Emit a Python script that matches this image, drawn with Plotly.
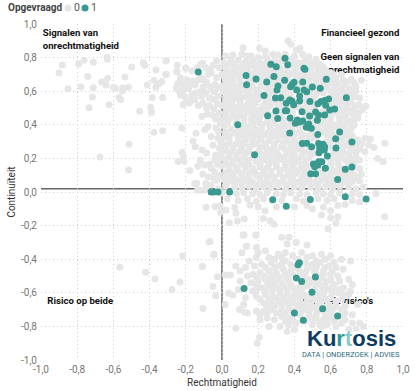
import plotly.graph_objects as go

tick_vals = [-1, -0.8, -0.6, -0.4, -0.2, 0, 0.2, 0.4, 0.6, 0.8, 1]
tick_text = ["-1,0", "-0,8", "-0,6", "-0,4", "-0,2", "0,0", "0,2", "0,4", "0,6", "0,8", "1,0"]

teal_points = [
(-.131,.714),(.27,.76),(.30,.746),(.348,.796),(.363,.758),(.453,.736),(.458,.73),(.133,.694),(.136,.639),(.188,.673),
(.247,.655),(.287,.688),(.346,.665),(.309,.631),(.304,.607),(.398,.653),(.379,.627),(.388,.64),(.446,.655),(.413,.607),
(.453,.607),(.468,.597),(.499,.625),(.543,.617),(.576,.671),(.232,.575),(.295,.56),(.324,.561),(.429,.571),(.429,.542),
(.486,.538),(.355,.528),(.374,.548),(.387,.542),(.396,.52),(.53,.526),(.547,.538),(.567,.544),(.589,.554),(.687,.561),
(.573,.516),(.298,.482),(.35,.484),(.357,.484),(.442,.478),(.517,.476),(.595,.488),(.622,.494),(.534,.458),(.567,.458),
(.484,.452),(.252,.454),(.308,.437),(.376,.44),(.416,.429),(.405,.409),(.427,.417),(.446,.423),(.527,.427),(.087,.401),
(.479,.405),(.466,.385),(.494,.379),(.482,.385),(.374,.351),(.529,.343),(.65,.357),(.628,.317),(.718,.298),(.444,.288),
(.468,.29),(.495,.27),(.534,.288),(.558,.284),(.567,.27),(.54,.26),(.63,.262),(.565,.25),(.536,.234),(.18,.222),
(.582,.214),(.505,.167),(.512,.151),(.534,.18),(.552,.18),(.53,.16),(.571,.141),(.49,.109),(.517,.109),(.681,.135),
(.718,.149),(.639,.075),(-.06,0),(-.046,0),(-.022,0),(.042,0),(.28,-.046),(.488,-.044),(.681,-.028),(.796,-.042),
(.355,-.085),(.427,-.421),(.42,-.433),(.516,-.506),(.411,-.512),(.44,-.532),(.122,-.575),(.497,-.597),(.556,-.695),
(.4,-.72),(.639,-.738),(.449,-.764),
]

gray_points = [
# far left
(-.90,.708),(-.882,.756),(-.851,.615),(-.792,.762),(-.762,.784),(-.779,.625),(-.742,.688),(-.711,.772),(-.711,.621),
(-.716,.565),(-.735,.502),(-.665,.655),(-.632,.677),(-.634,.802),(-.634,.79),(-.641,.637),(-.624,.52),(-.6,.623),
(-.59,.618),(-.569,.563),(-.56,.55),(-.551,.603),(-.548,.62),(-.517,.623),(-.536,.685),(-.499,.744),(-.435,.77),
(-.427,.754),(-.455,.48),(-.413,.639),(-.394,.504),(-.389,.474),(-.385,.563),(-.376,.665),(-.365,.726),(-.365,.623),
(-.35,.645),(-.333,.657),(-.328,.563),(-.308,.7),(-.308,.782),(-.376,.355),(-.328,.365),(-.514,.284),(-.516,.131),(-.674,.208),
# left band
(-.31,.78),(-.247,.756),(-.25,.716),(-.2,.736),(-.252,.619),(-.245,.645),(-.23,.68),(-.221,.379),(-.144,.349),(-.16,.302),
(-.22,.237),(-.213,.21),(-.243,.182),(-.21,.185),(-.178,.128),(-.133,.155),(-.105,.105),(-.14,.05),(-.107,.766),(-.118,.76),
(-.2,.737),(-.248,.716),(-.31,.7),(-.23,.67),(-.05,.755),(-.066,.725),(-.076,.70),(-.06,.71),(-.118,.68),(-.105,.67),
(-.193,.667),(-.177,.648),(-.195,.648),(-.25,.62),(-.215,.605),(-.24,.605),(-.185,.615),(-.149,.637),(-.105,.625),(-.125,.595),
(-.149,.587),(-.112,.568),(-.165,.577),(-.23,.577),(-.205,.567),(-.195,.54),(-.18,.53),(-.215,.52),(-.13,.515),(-.07,.56),
(-.045,.55),(-.045,.495),(-.07,.515),(-.11,.45),(-.034,.435),(-.02,.62),(-.03,.68),(-.015,.74),(-.04,.64),(-.02,.57),
(-.033,.38),(-.077,.39),(-.095,.37),(-.148,.27),(-.11,.25),(-.085,.23),(-.12,.19),(-.095,.16),(-.06,.14),(-.043,.12),
(-.035,.22),(-.015,.26),(-.022,.32),(-.05,.28),(-.07,.165),(-.025,.165),(-.09,.05),(-.06,.04),(-.03,.07),(-.02,.02),
(-.135,.01),(-.11,.01),(-.09,.02),(-.015,.1),(-.04,.19),(-.15,.05),
(-.165,.72),(-.135,.74),(-.09,.74),(-.03,.78),(-.16,.66),(-.135,.665),(-.085,.655),(-.065,.625),(-.09,.59),(-.045,.595),
(-.17,.545),(-.15,.55),(-.105,.53),(-.085,.50),(-.025,.525),(-.015,.47),(-.05,.455),(-.08,.465),(-.21,.64),(-.01,.41),
(-.02,.36),(-.06,.33),(-.005,.29),(-.01,.20),(-.045,.08),(-.075,.09),
# top fringe
(.365,.90),(.38,.88),(.43,.855),(.41,.845),(.116,.859),(.208,.855),(.24,.84),(.02,.81),(.06,.815),(.11,.82),(.135,.81),
(.28,.82),(.31,.815),(.35,.82),(.40,.81),(.48,.805),(.445,.82),(.16,.81),(.20,.80),(.24,.805),(.52,.79),
# upper blob
(.01,.77),(.05,.78),(.09,.785),(.13,.775),(.17,.78),(.21,.77),(.25,.79),(.29,.78),(.33,.78),(.38,.79),(.42,.77),(.46,.785),(.50,.77),(.54,.76),
(.02,.74),(.06,.745),(.10,.74),(.14,.735),(.18,.745),(.22,.74),(.26,.735),(.32,.74),(.36,.73),(.40,.745),(.44,.74),(.49,.735),(.53,.73),(.57,.725),(.60,.71),
(.0,.70),(.04,.705),(.08,.70),(.12,.71),(.16,.70),(.21,.705),(.25,.70),(.30,.705),(.34,.70),(.38,.705),(.42,.70),(.47,.70),(.51,.695),(.55,.70),(.59,.685),(.63,.68),(.66,.70),
(.02,.665),(.06,.67),(.10,.665),(.15,.665),(.20,.66),(.28,.665),(.31,.67),(.36,.665),(.43,.675),(.47,.665),(.52,.66),(.56,.655),(.60,.65),(.64,.645),(.715,.67),(.77,.665),(.69,.655),
(.0,.63),(.04,.635),(.08,.625),(.12,.61),(.17,.625),(.22,.63),(.26,.62),(.34,.63),(.42,.635),(.47,.63),(.52,.635),(.58,.625),(.62,.61),(.66,.615),(.71,.615),(.74,.63),
(.01,.595),(.05,.59),(.09,.585),(.14,.58),(.19,.59),(.26,.585),(.34,.59),(.38,.585),(.48,.59),(.52,.585),(.56,.59),(.62,.575),(.66,.58),(.72,.585),(.76,.56),
(.02,.555),(.06,.55),(.10,.545),(.15,.54),(.20,.55),(.24,.535),(.31,.525),(.46,.55),(.50,.555),(.62,.54),(.66,.535),(.71,.535),(.755,.52),(.795,.51),
(.0,.515),(.04,.51),(.08,.505),(.12,.50),(.17,.505),(.22,.50),(.27,.515),(.33,.50),(.42,.505),(.47,.50),(.51,.505),(.60,.51),(.65,.505),(.69,.50),(.73,.495),(.775,.49),
(.02,.47),(.06,.465),(.10,.46),(.14,.47),(.18,.465),(.22,.47),(.27,.455),(.33,.46),(.39,.47),(.47,.475),(.56,.48),(.60,.465),(.64,.46),(.68,.455),(.72,.465),(.75,.44),
(.0,.43),(.04,.435),(.12,.42),(.16,.43),(.20,.425),(.25,.42),(.29,.41),(.34,.415),(.38,.41),(.50,.42),(.56,.425),(.60,.42),(.65,.415),(.70,.42),(.73,.40),
(.01,.395),(.05,.375),(.10,.385),(.14,.39),(.18,.38),(.22,.385),(.27,.375),(.31,.38),(.35,.39),(.43,.385),(.53,.385),(.57,.39),(.61,.385),(.67,.38),(.71,.37),
(.02,.355),(.07,.35),(.11,.345),(.15,.35),(.19,.34),(.24,.345),(.29,.34),(.33,.345),(.41,.35),(.45,.34),(.49,.345),(.57,.35),(.61,.345),(.69,.34),
(.0,.315),(.04,.31),(.09,.305),(.13,.31),(.17,.30),(.21,.31),(.26,.305),(.31,.31),(.36,.305),(.40,.31),(.49,.315),(.58,.31),(.66,.31),(.70,.30),(.75,.31),(.79,.32),(.82,.315),
(.02,.275),(.06,.27),(.11,.265),(.15,.27),(.21,.265),(.24,.27),(.28,.26),(.33,.27),(.38,.265),(.42,.255),(.60,.27),(.67,.27),(.72,.265),(.77,.285),(.81,.28),(.90,.29),(.84,.265),
(.0,.235),(.04,.23),(.08,.225),(.13,.23),(.23,.225),(.27,.23),(.31,.22),(.36,.225),(.40,.22),(.45,.23),(.49,.225),(.61,.22),(.65,.23),(.70,.225),(.74,.235),(.79,.24),
(.02,.195),(.06,.19),(.10,.185),(.14,.19),(.19,.18),(.23,.19),(.28,.185),(.33,.195),(.37,.18),(.42,.19),(.46,.18),(.60,.19),(.64,.185),(.68,.19),(.76,.19),(.89,.18),(.86,.20),
(.0,.155),(.04,.15),(.08,.145),(.13,.15),(.17,.14),(.21,.15),(.25,.145),(.30,.15),(.35,.14),(.39,.15),(.44,.145),(.60,.145),(.65,.15),(.76,.14),
(.02,.115),(.06,.11),(.11,.105),(.15,.11),(.19,.10),(.23,.11),(.27,.105),(.32,.11),(.36,.10),(.41,.11),(.45,.10),(.56,.11),(.60,.105),(.64,.11),(.69,.105),(.73,.10),(.77,.105),
(.01,.075),(.05,.07),(.09,.065),(.13,.07),(.17,.06),(.21,.075),(.25,.06),(.29,.07),(.33,.06),(.38,.07),(.42,.06),(.47,.07),(.51,.06),(.55,.07),(.59,.06),(.68,.065),(.72,.06),(.76,.065),
(.02,.035),(.07,.03),(.11,.025),(.15,.035),(.19,.02),(.23,.03),(.27,.025),(.31,.035),(.35,.02),(.40,.03),(.44,.025),(.49,.03),(.53,.02),(.57,.03),(.61,.02),(.65,.035),(.70,.03),(.74,.02),(.78,.03),
(.0,-.005),(.08,-.01),(.12,-.005),(.17,-.01),(.21,-.015),(.25,-.005),(.30,-.01),(.34,-.015),(.38,-.005),(.43,-.01),(.47,-.015),(.52,-.005),(.56,-.01),(.60,-.015),(.65,-.005),(.72,-.01),(.76,-.015),(.85,-.01),
(.03,-.04),(.09,-.05),(.14,-.04),(.19,-.055),(.23,-.04),(.33,-.05),(.41,-.04),(.45,-.055),(.53,-.04),(.58,-.05),(.62,-.04),(.72,-.05),(.76,-.06),
# upper blob, between the rows
(.03,.76),(.07,.76),(.115,.755),(.155,.76),(.195,.755),(.24,.76),(.28,.75),(.31,.77),(.40,.77),(.44,.765),(.48,.76),(.52,.75),(.56,.745),
(.025,.72),(.065,.725),(.105,.715),(.145,.715),(.185,.72),(.23,.72),(.275,.715),(.32,.72),(.36,.71),(.405,.72),(.45,.71),(.49,.715),(.53,.71),(.575,.70),(.615,.70),
(.015,.685),(.055,.685),(.10,.685),(.14,.68),(.18,.68),(.225,.685),(.265,.68),(.325,.685),(.365,.69),(.41,.68),(.45,.685),(.49,.68),(.535,.68),(.575,.665),(.615,.665),(.67,.665),
(.02,.645),(.06,.65),(.105,.64),(.165,.645),(.215,.645),(.27,.64),(.325,.65),(.365,.64),(.42,.655),(.48,.65),(.52,.645),(.58,.64),(.625,.635),(.68,.635),(.73,.65),
(.025,.61),(.065,.605),(.10,.605),(.15,.60),(.20,.61),(.245,.605),(.28,.60),(.35,.61),(.50,.605),(.54,.60),(.60,.60),(.645,.595),(.69,.595),(.74,.60),
(.035,.57),(.075,.565),(.12,.565),(.17,.565),(.21,.57),(.25,.56),(.345,.565),(.47,.57),(.51,.57),(.60,.56),(.645,.555),(.69,.56),(.73,.565),
(.02,.535),(.055,.53),(.10,.525),(.14,.52),(.18,.525),(.23,.515),(.275,.535),(.33,.53),(.42,.53),(.47,.525),(.61,.525),(.645,.52),(.69,.515),(.735,.515),
(.025,.49),(.065,.485),(.10,.48),(.15,.485),(.20,.485),(.25,.485),(.31,.50),(.385,.495),(.44,.50),(.50,.49),(.63,.48),(.67,.48),(.71,.48),(.755,.47),
(.02,.45),(.08,.44),(.12,.445),(.17,.45),(.21,.445),(.28,.44),(.335,.435),(.465,.45),(.50,.45),(.60,.44),(.65,.435),(.685,.44),(.73,.435),
(.03,.41),(.08,.415),(.12,.40),(.17,.405),(.22,.405),(.26,.40),(.33,.395),(.385,.39),(.44,.40),(.53,.405),(.585,.405),(.63,.40),(.68,.40),(.72,.39),
(.04,.335),(.09,.365),(.13,.365),(.17,.36),(.21,.365),(.26,.36),(.30,.36),(.34,.37),(.39,.365),(.43,.36),(.49,.36),(.55,.365),(.59,.365),(.64,.38),(.68,.36),
(.02,.335),(.09,.325),(.13,.33),(.17,.325),(.22,.33),(.27,.325),(.31,.335),(.35,.325),(.39,.335),(.44,.32),(.48,.33),(.52,.32),(.59,.33),(.67,.335),(.72,.335),
(.04,.29),(.08,.285),(.12,.29),(.17,.28),(.19,.29),(.24,.29),(.29,.285),(.34,.29),(.38,.285),(.41,.285),(.60,.30),(.64,.29),(.69,.28),(.74,.285),
(.02,.25),(.06,.25),(.10,.245),(.15,.245),(.20,.24),(.25,.25),(.30,.245),(.35,.25),(.39,.245),(.44,.255),(.48,.25),(.51,.23),(.62,.245),(.67,.24),(.71,.245),(.76,.255),
(.04,.21),(.08,.205),(.12,.21),(.17,.205),(.21,.205),(.26,.21),(.30,.205),(.34,.205),(.39,.205),(.44,.21),(.48,.20),(.62,.205),(.66,.21),(.71,.20),(.74,.205),
(.02,.17),(.06,.17),(.11,.165),(.15,.165),(.21,.165),(.26,.17),(.30,.17),(.35,.165),(.40,.17),(.44,.165),(.475,.15),(.60,.165),(.64,.165),(.70,.17),(.73,.17),
(.04,.13),(.09,.125),(.13,.125),(.18,.12),(.23,.13),(.27,.125),(.32,.13),(.38,.125),(.42,.13),(.46,.125),(.55,.13),(.62,.125),(.67,.12),(.71,.125),
(.04,.09),(.07,.085),(.11,.08),(.15,.085),(.21,.095),(.25,.085),(.29,.09),(.34,.085),(.39,.09),(.44,.08),(.48,.085),(.53,.085),(.58,.08),(.62,.08),(.66,.09),(.71,.08),(.75,.085),
(.03,.055),(.07,.05),(.11,.05),(.15,.055),(.19,.04),(.23,.05),(.27,.045),(.31,.05),(.36,.045),(.40,.05),(.45,.045),(.49,.05),(.53,.04),(.58,.04),(.62,.045),(.66,.05),(.70,.05),
# band beneath the average line
(-.088,-.091),(-.039,-.087),(-.011,-.083),(-.008,-.121),(.022,-.107),(.07,-.091),(.077,-.127),(.04,-.183),(.085,-.173),(.123,-.161),
(.155,-.077),(.238,-.111),(.229,-.157),(.265,-.171),(.287,-.192),(.20,-.09),(.30,-.09),(.40,-.09),(.47,-.08),(.50,-.10),(.56,-.09),
(.60,-.11),(.64,-.08),(.68,-.075),(.586,-.22),(.63,-.186),(.64,-.147),(.60,-.153),(.55,-.137),(.899,-.147),
# lower left and lower blob
(.122,-.256),(.188,-.256),(-.066,-.295),(.136,-.321),(-.044,-.371),(-.217,-.379),(.11,-.361),(-.109,-.444),(.076,-.44),
(-.564,-.448),(-.422,-.478),(-.37,-.518),(-.276,-.581),(-.232,-.536),(-.107,-.444),(-.105,-.694),(-.072,-.298),
(-.046,-.375),(-.026,-.504),(-.05,-.563),(.018,-.494),(.046,-.494),(.037,-.603),(.06,-.613),(-.035,-.618),(.018,-.67),(.097,-.7),(.125,-.715),(.076,-.811),
(.207,-.865),(.195,-.9),(.116,-.256),(.186,-.256),(.135,-.325),(.33,-.27),(.37,-.27),(.36,-.31),(.41,-.30),(.47,-.315),
(.19,-.33),(.20,-.36),(.24,-.35),(.19,-.39),(.15,-.41),(.26,-.39),(.31,-.37),(.35,-.36),(.39,-.38),(.44,-.36),(.50,-.38),(.55,-.37),(.60,-.38),(.66,-.40),(.71,-.41),
(.10,-.47),(.13,-.45),(.18,-.44),(.22,-.43),(.27,-.42),(.31,-.44),(.35,-.41),(.38,-.43),(.46,-.42),(.50,-.43),(.54,-.42),(.59,-.44),(.63,-.45),(.67,-.46),
(.14,-.50),(.17,-.49),(.21,-.48),(.26,-.47),(.30,-.48),(.34,-.46),(.38,-.47),(.43,-.47),(.47,-.46),(.51,-.47),(.56,-.47),(.60,-.49),(.64,-.50),(.70,-.52),
(.10,-.53),(.16,-.54),(.19,-.55),(.24,-.52),(.28,-.52),(.32,-.52),(.36,-.51),(.45,-.50),(.48,-.52),(.55,-.51),(.58,-.53),(.62,-.55),(.67,-.57),(.72,-.55),
(.09,-.58),(.17,-.59),(.22,-.57),(.26,-.56),(.30,-.57),(.34,-.56),(.38,-.55),(.42,-.57),(.47,-.56),(.52,-.55),(.55,-.56),(.59,-.58),(.64,-.60),(.70,-.61),(.71,-.59),
(.13,-.63),(.19,-.62),(.24,-.61),(.28,-.62),(.32,-.60),(.36,-.60),(.40,-.61),(.44,-.60),(.53,-.60),(.56,-.61),(.60,-.63),(.66,-.64),
(.12,-.67),(.23,-.66),(.27,-.66),(.31,-.65),(.35,-.65),(.39,-.65),(.43,-.64),(.47,-.65),(.51,-.64),(.55,-.65),(.59,-.67),(.63,-.68),(.68,-.68),(.75,-.67),
(.14,-.72),(.19,-.71),(.23,-.71),(.27,-.70),(.33,-.70),(.37,-.69),(.42,-.69),(.46,-.70),(.50,-.69),(.53,-.71),(.59,-.71),(.68,-.72),(.72,-.73),
(.21,-.76),(.25,-.75),(.29,-.76),(.33,-.74),(.37,-.75),(.43,-.73),(.48,-.74),(.52,-.75),(.56,-.76),(.60,-.75),(.68,-.76),(.72,-.78),(.76,-.78),(.78,-.80),
(.26,-.80),(.32,-.80),(.37,-.79),(.41,-.78),(.50,-.79),(.55,-.80),(.58,-.79),(.63,-.80),(.70,-.82),(.74,-.82),(.36,-.83),(.40,-.82),
# lower blob, between the rows
(.29,-.40),(.33,-.39),(.42,-.40),(.47,-.39),(.52,-.41),(.57,-.40),(.62,-.42),
(.24,-.45),(.29,-.45),(.33,-.43),(.41,-.45),(.48,-.44),(.52,-.45),(.57,-.45),(.61,-.47),
(.19,-.51),(.23,-.50),(.27,-.50),(.31,-.50),(.35,-.49),(.39,-.49),(.46,-.48),(.52,-.49),(.56,-.49),(.60,-.52),(.65,-.53),
(.20,-.53),(.25,-.54),(.29,-.54),(.33,-.54),(.37,-.53),(.45,-.54),(.49,-.54),(.53,-.53),(.57,-.55),(.61,-.57),(.65,-.58),
(.19,-.58),(.24,-.59),(.28,-.58),(.32,-.58),(.36,-.58),(.40,-.58),(.44,-.58),(.51,-.58),(.56,-.59),(.61,-.60),(.67,-.61),
(.21,-.64),(.26,-.64),(.30,-.63),(.34,-.63),(.38,-.63),(.42,-.62),(.46,-.62),(.50,-.62),(.54,-.63),(.58,-.64),(.63,-.65),
(.25,-.68),(.29,-.68),(.33,-.67),(.37,-.67),(.41,-.67),(.45,-.67),(.49,-.67),(.53,-.67),(.57,-.69),(.61,-.70),(.66,-.70),
(.21,-.73),(.25,-.72),(.30,-.72),(.35,-.72),(.39,-.71),(.44,-.71),(.48,-.72),(.52,-.73),(.57,-.73),(.61,-.74),(.66,-.74),
(.35,-.77),(.39,-.76),(.46,-.77),(.50,-.76),(.54,-.78),(.58,-.77),(.62,-.77),(.66,-.78),
]

legend_title = "Opgevraagd"
legend_items = ["0", "1"]
x_title = "Rechtmatigheid"
y_title = "Continuïteit"
quadrant_labels = ["Signalen van<br>onrechtmatigheid", "Financieel gezond", "Geen signalen van<br>onrechtmatigheid", "Risico op beide", "Financiële risico's"]
quadrant_x = [-0.99, 0.98, 0.98, -0.965, 0.835]
quadrant_y = [0.905, 0.943, 0.762, -0.653, -0.653]
quadrant_pos = ["middle right", "middle left", "middle left", "middle right", "middle left"]

GRAY = "#E6E6E6"
TEAL = "#3A9A8F"
FONT = "Roboto"
L, R, T, B = 41, 12, 24, 31
W, H = 415, 391

def paper_x(px):
    return (px - L) / (W - L - R)

def paper_y(py):
    return (H - B - py) / (H - T - B)

fig = go.Figure()
fig.add_trace(go.Scatter(x=quadrant_x, y=quadrant_y, mode="text", text=quadrant_labels,
                         textposition=quadrant_pos, showlegend=False, hoverinfo="skip",
                         textfont=dict(family=FONT, size=9.6, color="#111111", weight=700)))
fig.add_trace(go.Scatter(x=[p[0] for p in gray_points], y=[p[1] for p in gray_points], mode="markers", name="0",
                         showlegend=False, marker=dict(color=GRAY, size=7, line=dict(width=0))))
fig.add_trace(go.Scatter(x=[p[0] for p in teal_points], y=[p[1] for p in teal_points], mode="markers", name="1",
                         showlegend=False, marker=dict(color=TEAL, size=7, line=dict(width=0))))

axis = dict(range=[-1, 1], tickmode="array", tickvals=tick_vals, ticktext=tick_text, showline=False, zeroline=False,
            showgrid=True, gridcolor="#CFCFCF", griddash="1px,3px", gridwidth=1, ticks="", automargin=False,
            tickfont=dict(family=FONT, size=10, color="#777777"),
            title_font=dict(family=FONT, size=10, color="#333333"))
fig.update_xaxes(**axis, title_text=x_title, ticklabelstandoff=2, title_standoff=4)
fig.update_yaxes(**axis, title_text=y_title, ticklabelstandoff=3, title_standoff=3)

fig.add_shape(type="line", layer="below", xref="x", yref="paper", x0=0, x1=0, y0=0, y1=1,
              line=dict(color="#666666", width=1.5))
fig.add_shape(type="line", layer="below", xref="paper", yref="y", x0=0, x1=1, y0=0.02, y1=0.02,
              line=dict(color="#666666", width=1.5))
fig.add_shape(type="rect", layer="above", xref="x", yref="y", x0=0.44, x1=0.98, y0=-0.995, y1=-0.83,
              fillcolor="white", line=dict(width=0))

fig.add_annotation(xref="x", yref="y", x=0.715, y=-0.87, showarrow=False,
                   text='<span style="color:#0E3B5E">Ku</span><span style="color:#2F9C8F">r</span><span style="color:#8CC9BF">t</span><span style="color:#0E3B5E">osis</span>',
                   font=dict(family="Liberation Sans", size=22, weight=700))
fig.add_annotation(xref="x", yref="y", x=0.715, y=-0.97, showarrow=False, text="DATA | ONDERZOEK | ADVIES",
                   font=dict(family=FONT, size=7.5, color="#2A6A80"))

# legend row
fig.add_annotation(xref="paper", yref="paper", x=paper_x(6), y=paper_y(8), xanchor="left", yanchor="middle",
                   showarrow=False, text=legend_title,
                   font=dict(family=FONT, size=10, color="#444444", weight=700))
for cx, tx, color, label in zip([68, 85], [77, 94], [GRAY, TEAL], legend_items):
    fig.add_shape(type="circle", xref="paper", yref="paper", x0=paper_x(cx - 3.5), x1=paper_x(cx + 3.5),
                  y0=paper_y(8 + 3.5), y1=paper_y(8 - 3.5), fillcolor=color, line=dict(width=0))
    fig.add_annotation(xref="paper", yref="paper", x=paper_x(tx), y=paper_y(8), xanchor="center", yanchor="middle",
                       showarrow=False, text=label, font=dict(family=FONT, size=10.5, color="#555555"))

fig.update_layout(width=W, height=H, margin=dict(l=L, r=R, t=T, b=B, autoexpand=False),
                  paper_bgcolor="white", plot_bgcolor="white", showlegend=False)
fig.write_html("out.html", post_script="document.body.style.margin='0';", config={"displayModeBar": False})
